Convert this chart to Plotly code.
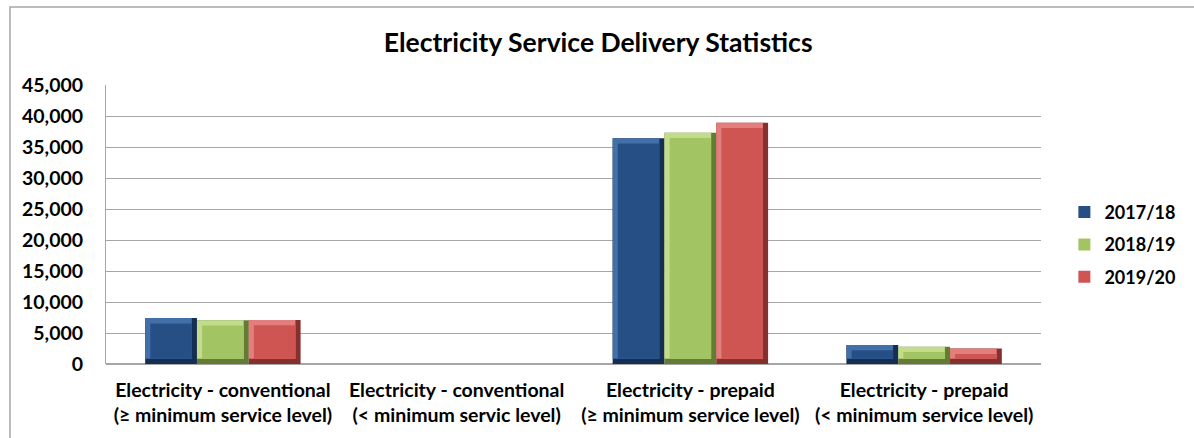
import plotly.graph_objects as go

categories = [
    "Electricity - conventional<br>(≥ minimum service level)",
    "Electricity - conventional<br>(< minimum servic level)",
    "Electricity - prepaid<br>(≥ minimum service level)",
    "Electricity - prepaid<br>(< minimum service level)",
]
years = ["2017/18", "2018/19", "2019/20"]
values_2017_18 = [7400, 0, 36400, 3050]
values_2018_19 = [7050, 0, 37300, 2800]
values_2019_20 = [7100, 0, 38900, 2480]
tick_values = [0, 5000, 10000, 15000, 20000, 25000, 30000, 35000, 40000, 45000]
tick_labels = ["0", "5,000", "10,000", "15,000", "20,000", "25,000",
               "30,000", "35,000", "40,000", "45,000"]

# bevelled bar colours: face, light edge (top/left), dark edge (right/bottom)
faces = ["#264F86", "#A3C463", "#CF5553"]
lights = ["#4470AA", "#C2DC8C", "#E27E7B"]
darks = ["#152F52", "#637C34", "#86302E"]

FONT = "Lato"
GROUP = 0.665                 # share of each category taken by the bar group
BAR_W = GROUP / 3
BEVEL_X = 0.022               # bevel thickness, category units
BEVEL_Y = 850                 # bevel thickness, value units

fig = go.Figure()
for i, (name, vals) in enumerate(zip(years, [values_2017_18, values_2018_19, values_2019_20])):
    off = -GROUP / 2 + i * BAR_W
    has = [v > 0 for v in vals]
    # full bar in the dark edge shade
    fig.add_trace(go.Bar(
        x=categories, y=vals, width=BAR_W, offset=off, showlegend=False,
        legendgroup=name,
        marker=dict(color=darks[i], line=dict(width=0)), hoverinfo="skip",
    ))
    # light top/left edge
    fig.add_trace(go.Bar(
        x=categories,
        y=[v - BEVEL_Y if h else None for v, h in zip(vals, has)],
        base=[BEVEL_Y if h else None for h in has],
        width=BAR_W - BEVEL_X, offset=off, showlegend=False, legendgroup=name,
        marker=dict(color=lights[i], line=dict(width=0)), hoverinfo="skip",
    ))
    # bar face, carries the legend entry
    fig.add_trace(go.Bar(
        name=f"<b>{name}</b>", x=categories, legendgroup=name,
        y=[v - 2 * BEVEL_Y if h else None for v, h in zip(vals, has)],
        base=[BEVEL_Y if h else None for h in has],
        width=BAR_W - 2 * BEVEL_X, offset=off + BEVEL_X,
        marker=dict(color=faces[i], line=dict(width=0)),
        customdata=vals, hovertemplate="%{customdata:,}<extra>" + name + "</extra>",
    ))

fig.update_layout(
    width=1194, height=438,
    margin=dict(l=106, r=153, t=85, b=74, autoexpand=False),
    paper_bgcolor="white", plot_bgcolor="white",
    barmode="overlay",
    font=dict(family=FONT, size=19, color="black"),
    title=dict(text="<b>Electricity Service Delivery Statistics</b>",
               x=0.501, xanchor="center", xref="container", y=0.902, yanchor="middle",
               font=dict(family=FONT, size=26.5, color="black")),
    legend=dict(x=1.025, y=0.61, xanchor="left", yanchor="top",
                font=dict(family=FONT, size=18, color="black"),
                tracegroupgap=6, itemwidth=30, bgcolor="rgba(0,0,0,0)"),
    xaxis=dict(showgrid=False, showline=False, ticks="",
               tickvals=categories, ticktext=[f"<b>{c}</b>" for c in categories],
               ticklabelstandoff=12,
               tickfont=dict(family=FONT, size=19.5, color="black")),
    yaxis=dict(range=[0, 45000], tickvals=tick_values,
               ticktext=[f"<b>{t}</b>" for t in tick_labels],
               showgrid=True, gridcolor="#A6A6A6", gridwidth=1,
               showline=True, linecolor="#A6A6A6", linewidth=1,
               zeroline=True, zerolinecolor="#A6A6A6", ticks="",
               ticklabelstandoff=18,
               tickfont=dict(family=FONT, size=19.5, color="black")),
    shapes=[dict(type="rect", xref="paper", yref="paper",
                 x0=-0.1027, x1=1.17, y0=-0.5, y1=1.2796,
                 line=dict(color="#A6A6A6", width=1.5), layer="below")],
)

fig.write_html("out.html")
